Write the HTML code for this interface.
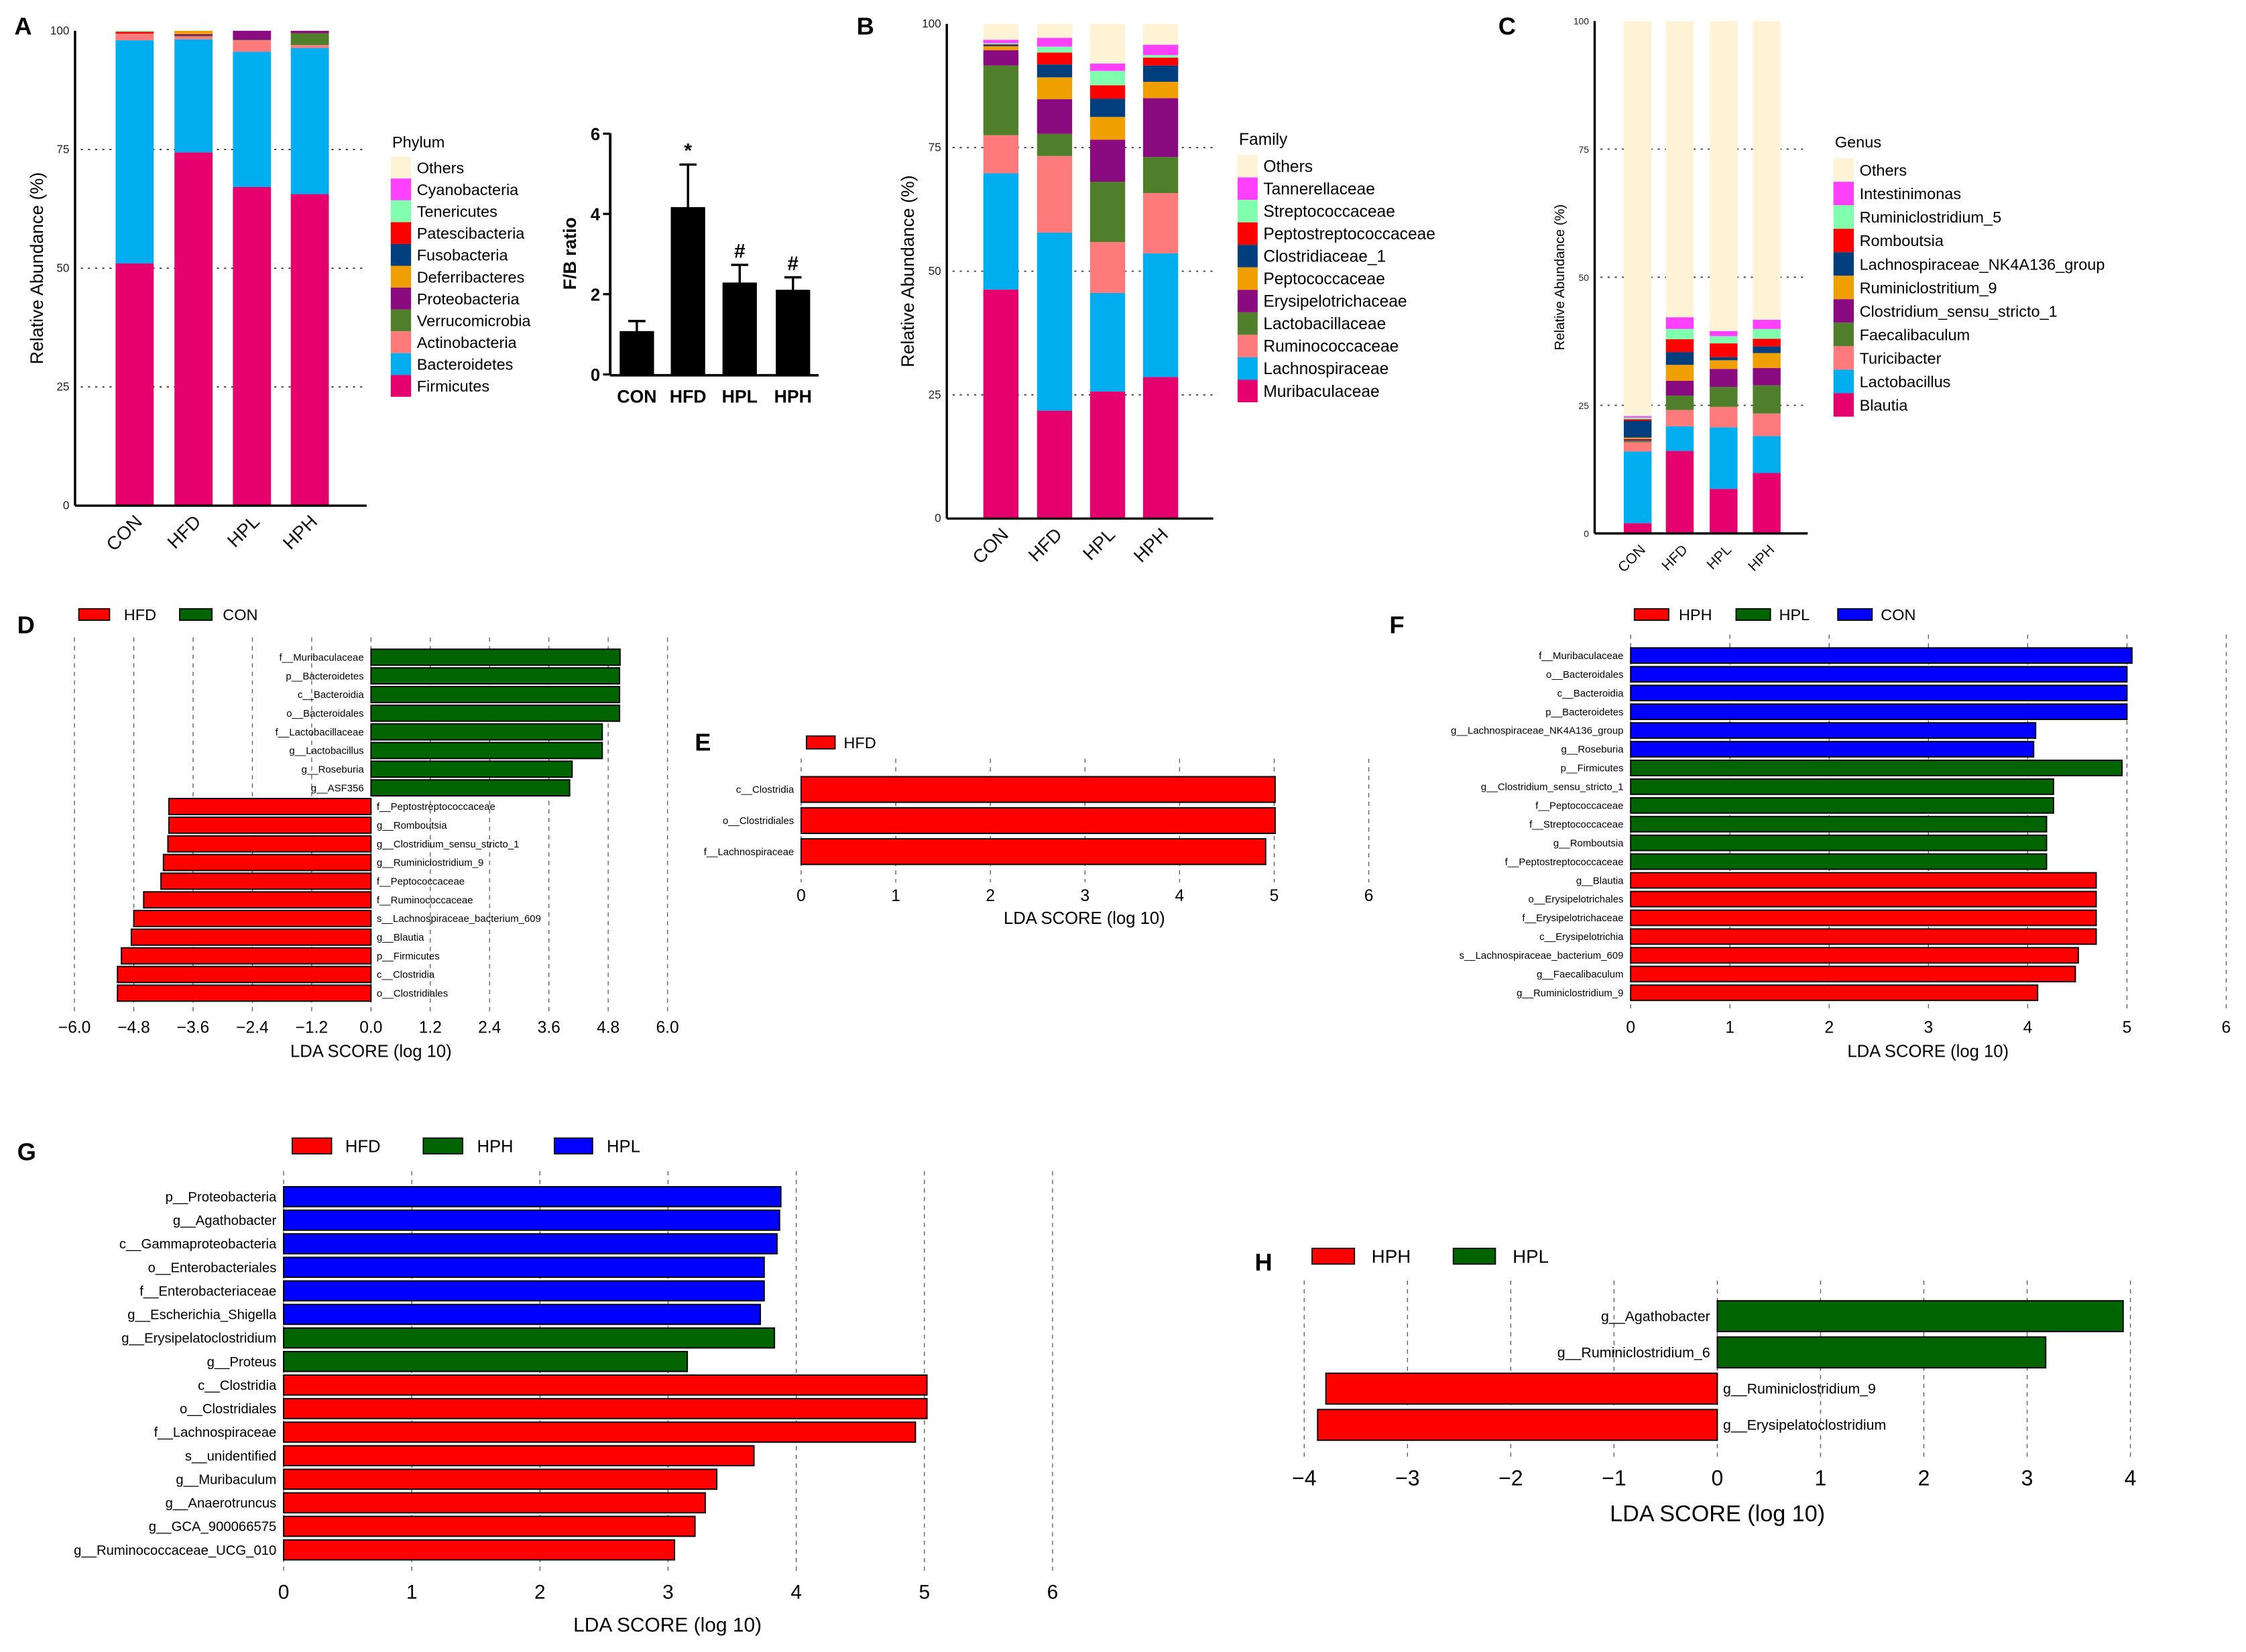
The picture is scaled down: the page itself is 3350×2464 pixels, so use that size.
<!DOCTYPE html>
<html><head><meta charset="utf-8"><style>
html,body{margin:0;padding:0;background:#fff;}
svg{display:block;font-family:"Liberation Sans",Arial,sans-serif;}
</style></head><body>
<svg id="fig" xmlns="http://www.w3.org/2000/svg" width="3350" height="2464" viewBox="0 0 1568 1153.3" preserveAspectRatio="none">
<rect width="1568" height="1153.3" fill="#fff"/>
<g id="root"></g>
</svg>
<script>
// ---------- DATA ----------
const groups = ["CON","HFD","HPL","HPH"];
const phylumNames = ["Firmicutes","Bacteroidetes","Actinobacteria","Verrucomicrobia","Proteobacteria","Deferribacteres","Fusobacteria","Patescibacteria","Tenericutes","Cyanobacteria","Others"];
const phylumCON = [51,47,1.4,0,0,0,0,0.4,0.2,0,0];
const phylumHFD = [74.4,23.8,0.6,0.2,0.3,0.7,0,0,0,0,0];
const phylumHPL = [67.1,28.5,2.4,0.1,1.9,0,0,0,0,0,0];
const phylumHPH = [65.6,30.8,0.6,2.5,0.5,0,0,0,0,0,0];
const familyNames = ["Muribaculaceae","Lachnospiraceae","Ruminococcaceae","Lactobacillaceae","Erysipelotrichaceae","Peptococcaceae","Clostridiaceae_1","Peptostreptococcaceae","Streptococcaceae","Tannerellaceae","Others"];
const familyCON = [46.3,23.5,7.7,14.1,3.1,0.8,0.3,0.1,0.2,0.7,3.2];
const familyHFD = [21.8,36,15.5,4.5,7,4.4,2.6,2.4,1.2,1.8,2.8];
const familyHPL = [25.7,19.9,10.3,12.2,8.5,4.6,3.7,2.7,2.9,1.5,8];
const familyHPH = [28.6,25,12.2,7.3,11.9,3.3,3.3,1.6,0.5,2.1,4.2];
const genusNames = ["Blautia","Lactobacillus","Turicibacter","Faecalibaculum","Clostridium_sensu_stricto_1","Ruminiclostritium_9","Lachnospiraceae_NK4A136_group","Romboutsia","Ruminiclostridium_5","Intestinimonas","Others"];
const genusCON = [2,14,1.8,0.3,0.3,0.3,3.3,0.3,0.3,0.3,77.1];
const genusHFD = [16.1,4.8,3.2,2.8,2.9,3.1,2.5,2.5,2,2.3,57.8];
const genusHPL = [8.7,12,4,3.9,3.5,1.7,0.6,2.7,1.4,1,60.5];
const genusHPH = [11.8,7.2,4.4,5.5,3.4,2.9,1.3,1.5,1.9,1.8,58.3];
const fbMeans = [1.08,4.17,2.29,2.11];
const fbErr = [0.25,1.06,0.44,0.31];
const fbMarks = ["","*","#","#"];
const dLabels = ["f__Muribaculaceae","p__Bacteroidetes","c__Bacteroidia","o__Bacteroidales","f__Lactobacillaceae","g__Lactobacillus","g__Roseburia","g__ASF356","f__Peptostreptococcaceae","g__Romboutsia","g__Clostridium_sensu_stricto_1","g__Ruminiclostridium_9","f__Peptococcaceae","f__Ruminococcaceae","s__Lachnospiraceae_bacterium_609","g__Blautia","p__Firmicutes","c__Clostridia","o__Clostridiales"];
const dScores = [5.04,5.03,5.03,5.03,4.68,4.68,4.07,4.02,-4.09,-4.09,-4.11,-4.2,-4.25,-4.6,-4.8,-4.85,-5.05,-5.13,-5.13];
const dGroup = [1,1,1,1,1,1,1,1,0,0,0,0,0,0,0,0,0,0,0];
const eLabels = ["c__Clostridia","o__Clostridiales","f__Lachnospiraceae"];
const eScores = [5.01,5.01,4.91];
const fLabels = ["f__Muribaculaceae","o__Bacteroidales","c__Bacteroidia","p__Bacteroidetes","g__Lachnospiraceae_NK4A136_group","g__Roseburia","p__Firmicutes","g__Clostridium_sensu_stricto_1","f__Peptococcaceae","f__Streptococcaceae","g__Romboutsia","f__Peptostreptococcaceae","g__Blautia","o__Erysipelotrichales","f__Erysipelotrichaceae","c__Erysipelotrichia","s__Lachnospiraceae_bacterium_609","g__Faecalibaculum","g__Ruminiclostridium_9"];
const fScores = [5.05,5.0,5.0,5.0,4.08,4.06,4.95,4.26,4.26,4.19,4.19,4.19,4.69,4.69,4.69,4.69,4.51,4.48,4.1];
const fGroup = [2,2,2,2,2,2,1,1,1,1,1,1,0,0,0,0,0,0,0];
const gLabels = ["p__Proteobacteria","g__Agathobacter","c__Gammaproteobacteria","o__Enterobacteriales","f__Enterobacteriaceae","g__Escherichia_Shigella","g__Erysipelatoclostridium","g__Proteus","c__Clostridia","o__Clostridiales","f__Lachnospiraceae","s__unidentified","g__Muribaculum","g__Anaerotruncus","g__GCA_900066575","g__Ruminococcaceae_UCG_010"];
const gScores = [3.88,3.87,3.85,3.75,3.75,3.72,3.83,3.15,5.02,5.02,4.93,3.67,3.38,3.29,3.21,3.05];
const gGroup = [2,2,2,2,2,2,1,1,0,0,0,0,0,0,0,0];
const hLabels = ["g__Agathobacter","g__Ruminiclostridium_6","g__Ruminiclostridium_9","g__Erysipelatoclostridium"];
const hScores = [3.93,3.18,-3.79,-3.87];
const hGroup = [1,1,0,0];
const dTicks = [-6.0,-4.8,-3.6,-2.4,-1.2,0.0,1.2,2.4,3.6,4.8,6.0];
const eTicks = [0,1,2,3,4,5,6];
const hTicks = [-4,-3,-2,-1,0,1,2,3,4];
const abTicks = [0,25,50,75,100];
const fbTicks = [0,2,4,6];

// ---------- helpers ----------
const NS="http://www.w3.org/2000/svg";
const root=document.getElementById('root');
function el(tag,attrs,parent,text){const e=document.createElementNS(NS,tag);for(const k in attrs)e.setAttribute(k,attrs[k]);if(text!==undefined)e.textContent=text;(parent||root).appendChild(e);return e;}
function lin(d0,d1,r0,r1){return v=>r0+(v-d0)/(d1-d0)*(r1-r0);}
const palette=["#E5006D","#00AEEF","#FF7B7B","#4F7F2A","#8A0A80","#EFA000","#003E7E","#FF0000","#80FFAE","#FF40FF","#FFF3D6"];

function panelLetter(t,x,y){const e=el('text',{x:x,y:y,'font-size':17,'font-weight':'bold'},root,t);

}

function stacked(id,names,series,o){
  const g=el('g',{});
  
  
  const y=lin(0,100,o.y0,o.y100);
  abTicks.forEach(t=>{
    const tl=el('text',{x:o.ax-4,y:y(t)+2.5,'font-size':o.tf,'text-anchor':'end',fill:'#222'},g,String(t));
    
    
    if(t>0&&t<100){const gl=el('line',{x1:o.ax+4,x2:o.axEnd,y1:y(t),y2:y(t),stroke:'#444','stroke-width':0.9,'stroke-dasharray':'1.5,3.5'},g);
    
    }
  });
  series.forEach((vals,i)=>{
    let acc=0;
    vals.forEach((v,j)=>{
      if(v<=0)return;
      const r=el('rect',{x:o.bx[i],y:y(acc+v),width:o.bw,height:y(acc)-y(acc+v),fill:palette[j]},g);
      
      
      acc+=v;
    });
    const lx=o.bx[i]+o.bw/2+6, ly=o.y0+12;
    const xl=el('text',{x:lx,y:ly,'font-size':o.xf,'text-anchor':'end',transform:`rotate(-45 ${lx} ${ly})`,fill:'#111'},g,groups[i]);
    
    
  });
  const ya=el('line',{x1:o.ax,x2:o.ax,y1:o.y100,y2:o.y0,stroke:'#000','stroke-width':1.6},g);
  
  
  const xa=el('line',{x1:o.ax,x2:o.axEnd,y1:o.y0,y2:o.y0,stroke:'#000','stroke-width':1.6},g);
  
  
  const cy=(o.y0+o.y100)/2;
  const yt=el('text',{x:o.ylx,y:cy,'font-size':o.ylf,'text-anchor':'middle',transform:`rotate(-90 ${o.ylx} ${cy})`},g,'Relative Abundance (%)');
  
  
  const lt=el('text',{x:o.lx+1,y:o.ltY,'font-size':o.lf},g,o.title);
  
  
  for(let k=names.length-1;k>=0;k--){
    const row=names.length-1-k, yy=o.lY0+row*o.lStep;
    const s=el('rect',{x:o.lx,y:yy-o.lStep/2,width:o.sw,height:o.lStep,fill:palette[k]},g);
    
    
    const t=el('text',{x:o.lx+o.sw+4,y:yy+4,'font-size':o.lf},g,names[k]);
    
    
  }
}

function lda(id,labels,scores,grp,cols,o){
  const g=el('g',{});
  
  
  const x=v=>o.x0+v*o.unit;
  o.ticks.forEach(t=>{
    const gl=el('line',{x1:x(t),x2:x(t),y1:o.gTop,y2:o.gBot,stroke:'#555','stroke-width':0.6,'stroke-dasharray':'3,3'},g);
    
    
    const s=(o.dec?t.toFixed(1):String(t)).replace('-','\u2212');
    const tl=el('text',{x:x(t),y:o.tickY,'font-size':o.tf,'text-anchor':'middle'},g,s);
    
    
  });
  const n=labels.length;
  labels.forEach((lab,i)=>{
    const v=scores[i], yy=o.top+i*o.step;
    const x1=Math.min(x(0),x(v)), w=Math.abs(x(v)-x(0));
    const r=el('rect',{x:x1,y:yy+(o.step-o.bh)/2,width:w,height:o.bh,fill:cols[grp[i]],stroke:'#000','stroke-width':0.9},g);
    
    
    const right = v<0;
    const t=el('text',{x:right?x(0)+4:x(0)-5,y:yy+o.step/2+o.lf*0.35,'font-size':o.lf,'text-anchor':right?'start':'end','font-stretch':'condensed'},g,lab);
    
    
  });
  const tt=el('text',{x:o.titleX,y:o.titleY,'font-size':o.ttf,'text-anchor':'middle'},g,'LDA SCORE (log 10)');
  
  
  o.legend.forEach((L,i)=>{
    const s=el('rect',{x:L[1],y:o.legY-o.legH/2,width:L[2],height:o.legH,fill:cols[L[3]],stroke:'#000','stroke-width':0.8},g);
    
    
    const t=el('text',{x:L[4],y:o.legY+o.legF*0.36,'font-size':o.legF},g,L[0]);
    
    
  });
}

// ---------- Panels ----------
panelLetter('A',10,24);
stacked('phylum',phylumNames,[phylumCON,phylumHFD,phylumHPL,phylumHPH],{
 ax:52.4,axEnd:256,y0:353,y100:21.5,bx:[80.7,121.8,162.6,203],bw:26.6,tf:8,xf:13,ylx:30,ylf:12.5,
 lx:272.8,sw:14.2,lY0:117,lStep:15.24,lf:11,ltY:103,title:'Phylum'});

// F/B ratio
(function(){
  const g=el('g',{});
  
  
  const y=lin(0,6,261.4,93.3);
  const bx=[432.6,468.3,504.4,541.6], bw=24;
  fbTicks.forEach(t=>{
    const tl=el('text',{x:419,y:y(t)+4.5,'font-size':12,'font-weight':'bold','text-anchor':'end'},g,String(t));
    
    
    el('line',{x1:421,x2:426,y1:y(t),y2:y(t),stroke:'#000','stroke-width':1.5},g);
  });
  fbMeans.forEach((m,i)=>{
    const cx=bx[i]+bw/2, top=y(m+fbErr[i]);
    const e=el('line',{x1:cx,x2:cx,y1:y(m),y2:top,stroke:'#000','stroke-width':1.6},g);
    
    
    el('line',{x1:cx-6,x2:cx+6,y1:top,y2:top,stroke:'#000','stroke-width':1.6},g);
    const r=el('rect',{x:bx[i],y:y(m),width:bw,height:y(0)-y(m),fill:'#000'},g);
    
    
    if(fbMarks[i]){const s=el('text',{x:cx,y:top-5,'font-size':14,'font-weight':'bold','text-anchor':'middle'},g,fbMarks[i]);
    
    }
    const xl=el('text',{x:cx,y:281,'font-size':12.5,'font-weight':'bold','text-anchor':'middle'},g,groups[i]);
    
    
  });
  el('line',{x1:426,x2:426,y1:93,y2:262,stroke:'#000','stroke-width':1.8},g);
  el('line',{x1:426,x2:571.5,y1:262,y2:262,stroke:'#000','stroke-width':1.8},g);
  const yt=el('text',{x:402,y:177,'font-size':12.5,'font-weight':'bold','text-anchor':'middle',transform:'rotate(-90 402 177)'},g,'F/B ratio');
  
  
})();

panelLetter('B',598,24);
stacked('family',familyNames,[familyCON,familyHFD,familyHPL,familyHPH],{
 ax:661,axEnd:847,y0:362,y100:16.7,bx:[686.5,724,761,798],bw:24.5,tf:8,xf:13,ylx:638,ylf:12.5,
 lx:864,sw:14,lY0:116,lStep:15.7,lf:11.5,ltY:101,title:'Family'});

panelLetter('C',1046,24);
stacked('genus',genusNames,[genusCON,genusHFD,genusHPL,genusHPH],{
 ax:1113.3,axEnd:1262,y0:372.4,y100:14.7,bx:[1133.6,1163,1193.6,1223.7],bw:19.4,tf:6.5,xf:10,ylx:1092,ylf:9.5,
 lx:1280,sw:14.2,lY0:118.7,lStep:16.4,lf:11,ltY:103,title:'Genus'});

panelLetter('D',12,442);
lda('d',dLabels,dScores,dGroup,['#FF0000','#006400'],{
 x0:259,unit:34.5,ticks:dTicks,dec:true,gTop:445,gBot:708,tickY:721,tf:11.5,
 top:452.3,step:13.03,bh:11.2,lf:7,titleX:259,titleY:738,ttf:12,
 legY:429,legH:8,legF:11,legend:[['HFD',55,21.5,0,86.5],['CON',125.4,22.6,1,155.5]]});

panelLetter('E',485,524);
lda('e',eLabels,eScores,[0,0,0],['#FF0000'],{
 x0:559.3,unit:66.05,ticks:eTicks,dec:false,gTop:529.6,gBot:616,tickY:629,tf:11.5,
 top:540.3,step:21.7,bh:17.9,lf:7,titleX:757,titleY:645,ttf:12,
 legY:518.3,legH:9,legF:11,legend:[['HFD',563,20,0,589]]});

panelLetter('F',970,442);
lda('f',fLabels,fScores,fGroup,['#FF0000','#006400','#0000FF'],{
 x0:1138.4,unit:69.3,ticks:eTicks,dec:false,gTop:443,gBot:706,tickY:721,tf:11.5,
 top:451.1,step:13.08,bh:10.7,lf:7,titleX:1346,titleY:738,ttf:12,
 legY:429,legH:8,legF:11,legend:[['HPH',1141,24,0,1172],['HPL',1212,24,1,1242],['CON',1283,24,2,1313]]});

panelLetter('G',12,810);
lda('g',gLabels,gScores,gGroup,['#FF0000','#006400','#0000FF'],{
 x0:198,unit:89.47,ticks:eTicks,dec:false,gTop:817.6,gBot:1097,tickY:1116,tf:14,
 top:827.2,step:16.44,bh:13.9,lf:9.5,titleX:466,titleY:1139,ttf:14,
 legY:800,legH:11,legF:12,legend:[['HFD',204,27.5,0,241],['HPH',295.5,27.5,1,333],['HPL',387,26.7,2,423.6]]});

panelLetter('H',876,887);
lda('h',hLabels,hScores,hGroup,['#FF0000','#006400'],{
 x0:1198.9,unit:72.1,ticks:hTicks,dec:false,gTop:894,gBot:1018,tickY:1037,tf:15,
 top:906.2,step:25.3,bh:21.5,lf:10,titleX:1199,titleY:1062,ttf:16,
 legY:877,legH:11,legF:13,legend:[['HPH',916,29.6,0,957.5],['HPL',1014.6,29.4,1,1056]]});
</script>
</body></html>
